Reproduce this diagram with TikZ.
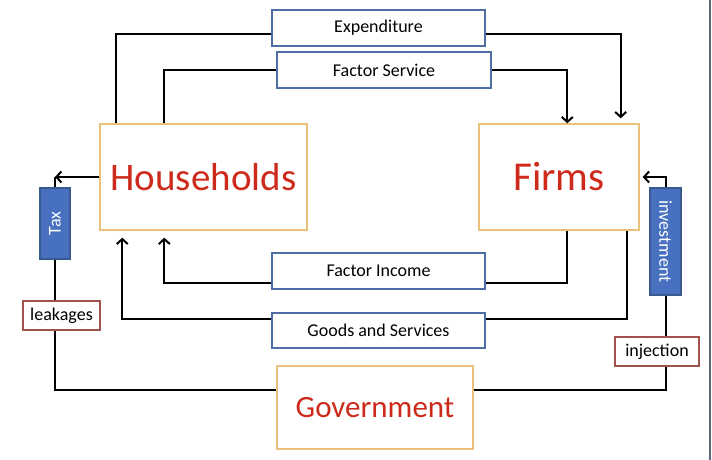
\documentclass[tikz,border=0pt]{standalone}
\usepackage{fontspec}
\setmainfont{Carlito}
\usepackage{tikz}
\usetikzlibrary{arrows.meta,calc,positioning}
\definecolor{hubred}{RGB}{205,42,28}
\definecolor{hubedge}{RGB}{234,192,122}
\definecolor{flowedge}{RGB}{79,110,165}
\definecolor{sidefill}{RGB}{72,112,192}
\definecolor{sideedge}{RGB}{56,90,140}
\definecolor{noteedge}{RGB}{160,82,77}
\definecolor{frameline}{RGB}{92,102,122}
\tikzset{
        hub/.style = {draw=hubedge, fill=white, line width=1.4bp, rectangle,
            inner sep=0pt, text=hubred},
        flowbox/.style = {draw=flowedge, fill=white, line width=1.4bp, rectangle,
            inner sep=0pt, minimum width=213bp, minimum height=36bp,
            font=\fontsize{18bp}{21bp}\selectfont},
        sidebox/.style = {draw=sideedge, fill=sidefill, line width=1.2bp, rectangle,
            inner sep=0pt, text=white, font=\fontsize{18bp}{21bp}\selectfont},
        notebox/.style = {draw=noteedge, fill=white, line width=1.4bp, rectangle,
            inner sep=0pt, minimum height=29bp,
            font=\fontsize{18bp}{21bp}\selectfont},
        link/.style = {draw, line width=2bp},
        arrow/.style = {draw, line width=2bp, -{Straight Barb[length=5bp,width=11bp,line width=2bp]}},
    }

\begin{document}
\begin{tikzpicture}[x=1bp,y=-1bp]
        \useasboundingbox (0,0) rectangle (712,460);
        \draw[frameline, line width=1.8bp] (710,0) -- (710,460);

        \node[hub, minimum width=207bp, minimum height=106bp,
              font=\fontsize{39bp}{44bp}\selectfont] (house) at (203.5,177) {Households};
        \node[hub, minimum width=160bp, minimum height=106bp,
              font=\fontsize{41bp}{46bp}\selectfont] (firm) at (559,177) {Firms};
        \node[hub, minimum width=196bp, minimum height=83bp,
              font=\fontsize{31bp}{36bp}\selectfont] (gov) at (375,407.5) {Government};

        \node[flowbox] (spend) at (378.5,28) {Expenditure};
        \node[flowbox, minimum width=214bp] (fserv) at (384,70) {Factor Service};
        \node[flowbox] (fincome) at (378.5,271) {Factor Income};
        \node[flowbox, minimum height=35bp] (goods) at (378.5,330.5) {Goods and Services};

        \node[sidebox, rotate=90, minimum width=71bp, minimum height=30bp] (tax) at (55,223.5) {Tax};
        \node[sidebox, rotate=-90, minimum width=107bp, minimum height=31bp] (invest) at (665.5,241.5) {investment};

        \coordinate (taxturn) at (tax.east |- house.west);

        \draw[link] ([xshift=17bp]house.north west) |- ([yshift=-6bp]spend.west);
        \draw[arrow, shorten >=5bp] ([yshift=-6bp]spend.east) -| ([xshift=-19bp]firm.north east);
        \draw[link] ([xshift=65bp]house.north west) |- (fserv.west);
        \draw[arrow] (fserv.east) -| ([xshift=89bp]firm.north west);

        \draw[link] ([xshift=89bp]firm.south west) |- ([yshift=-12bp]fincome.east);
        \draw[arrow, shorten >=7bp] ([yshift=-12bp]fincome.west) -| ([xshift=65bp]house.south west);
        \draw[link] ([xshift=149bp]firm.south west) |- ([yshift=11.5bp]goods.east);
        \draw[arrow, shorten >=7bp] ([yshift=11.5bp]goods.west) -| ([xshift=23bp]house.south west);

        \draw[arrow] (house.west) -- (taxturn);
        \draw[link] (tax.east) -- (taxturn);
        \draw[link] (tax.west) |- ([yshift=17.5bp]gov.west);
        \draw[link] ([yshift=17.5bp]gov.east) -| (invest.east);
        \draw[arrow, shorten >=3bp] (invest.west) |- (firm.east);

        \node[notebox, minimum width=77bp] (leak) at (61.5,315.5) {leakages};
        \node[notebox, minimum width=84bp] (inject) at (657,351.5) {injection};
    \end{tikzpicture}
\end{document}
